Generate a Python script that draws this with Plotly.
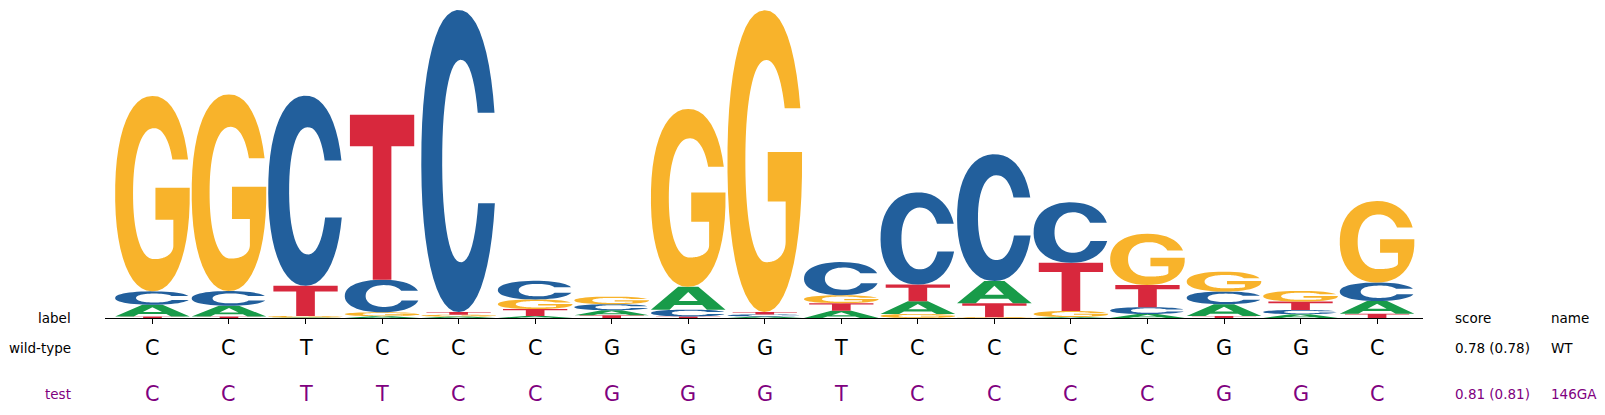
import math
import plotly.graph_objects as go

# logo data (information content, bits) for each position
positions = list(range(17))
bits_A = [0.076, 0.069, 0.003, 0.012, 0.009, 0.013, 0.032, 0.147, 0.010, 0.047, 0.082, 0.143, 0.006, 0.026, 0.076, 0.025, 0.082]
bits_C = [0.086, 0.095, 1.227, 0.210, 1.951, 0.120, 0.039, 0.044, 0.013, 0.214, 0.595, 0.818, 0.390, 0.044, 0.082, 0.027, 0.119]
bits_G = [1.262, 1.270, 0.010, 0.025, 0.012, 0.062, 0.049, 1.149, 1.948, 0.051, 0.026, 0.005, 0.039, 0.331, 0.128, 0.069, 0.526]
bits_T = [0.010, 0.010, 0.195, 1.065, 0.017, 0.045, 0.018, 0.010, 0.016, 0.049, 0.108, 0.091, 0.312, 0.143, 0.013, 0.054, 0.028]

wt_seq = list("CCTCCCGGGTCCCCGGC")
test_seq = list("CCTTCCGGGTCCCCGGC")
row_labels = ["wild-type", "test"]
row_scores = ["0.78 (0.78)", "0.81 (0.81)"]
row_names = ["WT", "146GA"]

colors = {"A": "#189B49", "C": "#225F9C", "G": "#F8B32B", "T": "#D8283D"}
row_colors = ["black", "#800080"]
FONT = "DejaVu Sans"


# ---- glyph outlines in a unit box (u across, v up) ----
def se_point(cx, cy, ax, ay, th, n=2.2):
    c, s = math.cos(th), math.sin(th)
    return (cx + ax * math.copysign(abs(c) ** (2 / n), c),
            cy + ay * math.copysign(abs(s) ** (2 / n), s))


def se_angle(cy, ay, v, n=2.2):
    s = (v - cy) / ay
    return math.copysign(math.asin(min(1.0, abs(s) ** (n / 2))), s)


def arc(cx, cy, ax, ay, t0, t1, steps=48):
    return [se_point(cx, cy, ax, ay, t0 + (t1 - t0) * k / steps) for k in range(steps + 1)]


TWO_PI = 2 * math.pi

c_outer = arc(0.5, 0.5, 0.5, 0.5, se_angle(0.5, 0.5, 0.66), TWO_PI + se_angle(0.5, 0.5, 0.36))
c_inner = arc(0.53, 0.5, 0.25, 0.335, TWO_PI + se_angle(0.5, 0.335, 0.36), se_angle(0.5, 0.335, 0.66))
glyph_C = [c_outer + c_inner]

g_outer = arc(0.5, 0.5, 0.5, 0.5, se_angle(0.5, 0.5, 0.675), TWO_PI + se_angle(0.5, 0.5, 0.53))
g_bar = [(0.54, 0.53), (0.54, 0.366), (0.78, 0.366), (0.78, 0.236)]
g_corner = arc(0.52, 0.236, 0.26, 0.071, 0, -math.pi / 2)
g_inner = arc(0.52, 0.5, 0.28, 0.335, -math.pi / 2, se_angle(0.5, 0.335, 0.675) - TWO_PI, steps=64)
glyph_G = [g_outer + g_bar + g_corner + g_inner]

glyph_T = [[(0.355, 0), (0.645, 0), (0.645, 0.81), (1, 0.81), (1, 1), (0, 1), (0, 0.81), (0.355, 0.81)]]

glyph_A = [[(0, 0), (0.25, 0), (0.314, 0.2), (0.686, 0.2), (0.75, 0), (1, 0), (0.635, 1), (0.365, 1)],
           [(0.372, 0.38), (0.5, 0.78), (0.628, 0.38)]]

glyphs = {"A": glyph_A, "C": glyph_C, "G": glyph_G, "T": glyph_T}
widths = {"A": 0.975, "C": 0.975, "G": 0.975, "T": 0.84}


def glyph_path(letter, xc, y0, h):
    w = widths[letter]
    parts = []
    for contour in glyphs[letter]:
        pts = ["%.4f,%.5f" % (xc - w / 2 + u * w, y0 + v * h) for u, v in contour]
        parts.append("M " + " L ".join(pts) + " Z")
    return " ".join(parts)


fig = go.Figure()
fig.add_trace(go.Scatter(x=positions, y=[0] * len(positions), mode="markers",
                         marker=dict(opacity=0), hoverinfo="skip", showlegend=False))

# stack letters: smallest at the bottom, largest on top
totals = []
for i in positions:
    col = sorted([("A", bits_A[i]), ("C", bits_C[i]), ("G", bits_G[i]), ("T", bits_T[i])],
                 key=lambda t: t[1])
    y0 = 0.0
    for letter, h in col:
        fig.add_shape(type="path", path=glyph_path(letter, i, y0, h), xref="x", yref="y",
                      fillcolor=colors[letter], line=dict(width=0), layer="above")
        y0 += h
    totals.append(y0)

# sequence rows under the logo
row_y = [-0.0974, -0.248]
for r, seq in enumerate([wt_seq, test_seq]):
    for i, ch in zip(positions, seq):
        fig.add_annotation(x=i, y=row_y[r], xref="x", yref="paper", text=ch, showarrow=False,
                           xanchor="center", yanchor="middle",
                           font=dict(family=FONT, size=20.8, color=row_colors[r]))

# left and right hand columns
left = [("label", 0.0016, "black")] + [(row_labels[r], row_y[r], row_colors[r]) for r in range(2)]
for txt, y, c in left:
    fig.add_annotation(x=0, y=y, xref="paper", yref="paper", xshift=-32, text=txt, showarrow=False,
                       xanchor="right", yanchor="middle", font=dict(family=FONT, size=13.5, color=c))

right = [("score", "name", 0.0016, "black")] + \
        [(row_scores[r], row_names[r], row_y[r], row_colors[r]) for r in range(2)]
for sc, nm, y, c in right:
    fig.add_annotation(x=1, y=y, xref="paper", yref="paper", xshift=30, text=sc, showarrow=False,
                       xanchor="left", yanchor="middle", font=dict(family=FONT, size=13.5, color=c))
    fig.add_annotation(x=1, y=y, xref="paper", yref="paper", xshift=126, text=nm, showarrow=False,
                       xanchor="left", yanchor="middle", font=dict(family=FONT, size=13.5, color=c))

# the page body adds an 8px margin, so the figure is 8px smaller and shifted back
fig.update_layout(
    width=1597, height=407,
    margin=dict(l=97, r=182, t=2, b=97),
    paper_bgcolor="white",
    plot_bgcolor="white",
    xaxis=dict(range=[-0.62, 16.6], showgrid=False, zeroline=False,
               showline=True, linecolor="black", linewidth=1,
               ticks="outside", tickvals=positions, ticklen=5, tickwidth=1, tickcolor="black",
               showticklabels=False),
    yaxis=dict(range=[0, max(totals)], visible=False, showgrid=False, zeroline=False),
)

fig.write_html("out.html")
